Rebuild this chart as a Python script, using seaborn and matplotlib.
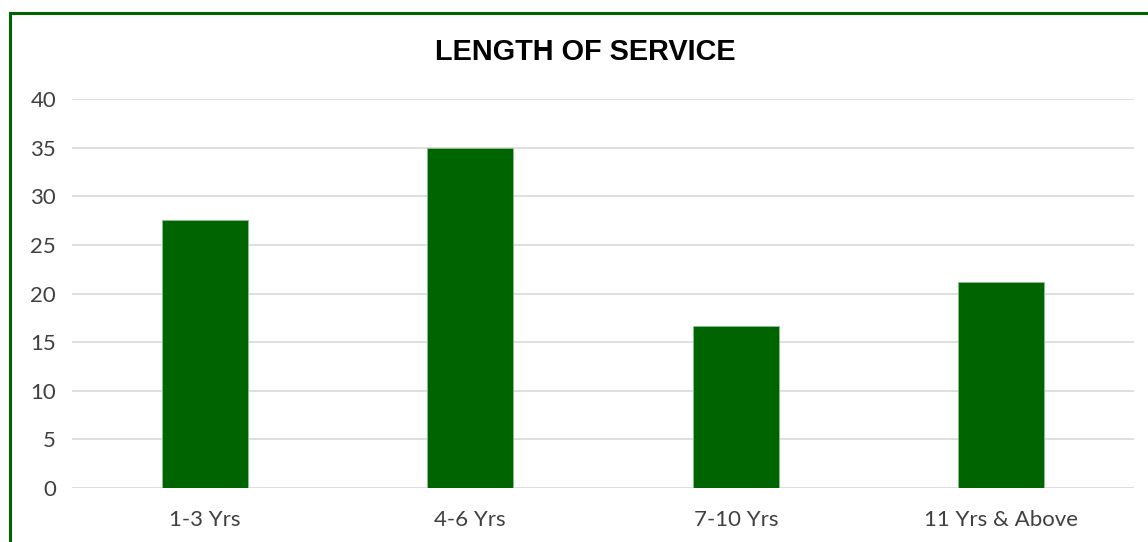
import matplotlib
matplotlib.use("Agg")
import matplotlib.pyplot as plt
import seaborn as sns
import pandas as pd
from matplotlib.patches import Rectangle

categories = ["1-3 Yrs", "4-6 Yrs", "7-10 Yrs", "11 Yrs & Above"]
values = [27.6, 35.0, 16.7, 21.2]
yticks = [0, 5, 10, 15, 20, 25, 30, 35, 40]
title = "LENGTH OF SERVICE"

sns.set_theme(style="white")
plt.rcParams['font.family'] = ['Lato', 'DejaVu Sans']

W, H = 1148, 542
fig = plt.figure(figsize=(W / 100, H / 100), dpi=100)
ax = fig.add_axes([72 / W, (H - 488) / H, (1134 - 72) / W, (488 - 99) / H])

df = pd.DataFrame({"cat": categories, "val": values})
sns.barplot(data=df, x="cat", y="val", color="#006400", saturation=1,
            width=0.324, ax=ax, edgecolor="#8cc08c", linewidth=0.6, zorder=3)

ax.set_ylim(0, 40)
ax.set_xlim(-0.5, 3.5)
ax.set_yticks(yticks)
ax.set_yticklabels([str(t) for t in yticks])
ax.yaxis.grid(True, color="#d9d9d9", linewidth=1.2, zorder=0)
ax.set_axisbelow(True)
for s in ax.spines.values():
    s.set_visible(False)
ax.set_xlabel("")
ax.set_ylabel("")
ax.tick_params(axis="y", length=0, pad=11.5, labelsize=16, labelcolor="#404040")
ax.tick_params(axis="x", length=0, pad=16, labelsize=16, labelcolor="#404040")

fig.text(585 / W, 1 - 52 / H, title, ha="center", va="center",
         fontsize=20.8, fontweight="bold", family=["Liberation Sans", "DejaVu Sans"], color="black")

border = Rectangle((9.5 / W, -0.1), 1.2, 1 - 12.5 / H + 0.1, transform=fig.transFigure,
                   fill=False, edgecolor="#006400", linewidth=2.2, zorder=10)
fig.patches.append(border)

fig.savefig("out.png", dpi=100)
